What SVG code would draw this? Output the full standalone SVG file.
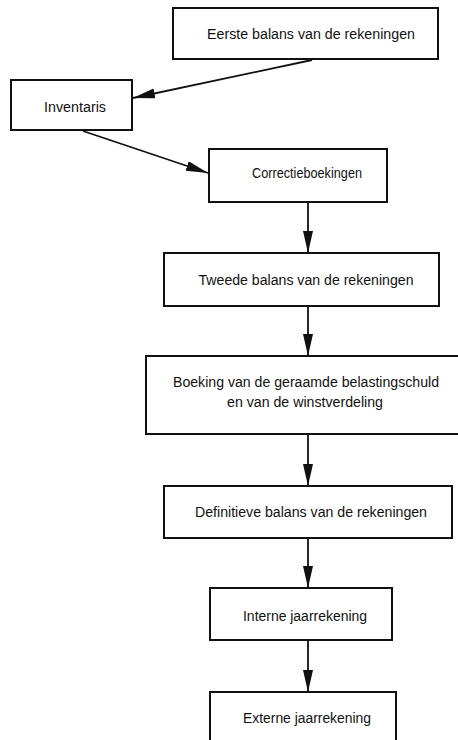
<svg xmlns="http://www.w3.org/2000/svg" width="458" height="740" viewBox="0 0 458 740">
<defs>
<style>
.box{fill:#fff;stroke:#111;stroke-width:2}
.t{font-family:"Liberation Sans",Arial,sans-serif;font-size:14px;fill:#111;text-anchor:middle}
.c{stroke:#111;stroke-width:1.8;fill:none;marker-end:url(#ah)}
</style>
<marker id="ah" markerUnits="userSpaceOnUse" markerWidth="24" markerHeight="12" refX="22" refY="5" orient="auto" viewBox="0 0 24 12">
<path d="M0,0 L22,5 L0,10 z" fill="#111"/>
</marker>
</defs>
<rect width="458" height="740" fill="#fff"/>
<g id="connectors">
<line class="c" x1="312" y1="60" x2="133" y2="98"/>
<line class="c" x1="83" y1="131" x2="208" y2="173"/>
<line class="c" x1="308" y1="202" x2="308" y2="253"/>
<line class="c" x1="308" y1="306" x2="308" y2="356"/>
<line class="c" x1="308" y1="434" x2="308" y2="486"/>
<line class="c" x1="308" y1="538" x2="308" y2="588"/>
<line class="c" x1="308" y1="640" x2="308" y2="692"/>
</g>
<g id="n1"><rect class="box" x="173" y="8" width="265" height="51"/><text class="t" x="311" y="39" textLength="208" lengthAdjust="spacingAndGlyphs">Eerste balans van de rekeningen</text></g>
<g id="n2"><rect class="box" x="11" y="80" width="121" height="50"/><text class="t" x="75" y="112" textLength="62" lengthAdjust="spacingAndGlyphs">Inventaris</text></g>
<g id="n3"><rect class="box" x="209" y="149" width="178" height="53"/><text class="t" x="307" y="178" textLength="110" lengthAdjust="spacingAndGlyphs">Correctieboekingen</text></g>
<g id="n4"><rect class="box" x="164" y="253" width="275" height="53"/><text class="t" x="306" y="285" textLength="215" lengthAdjust="spacingAndGlyphs">Tweede balans van de rekeningen</text></g>
<g id="n5"><rect class="box" x="146" y="356" width="316" height="78"/><text class="t" x="306" y="387" textLength="266" lengthAdjust="spacingAndGlyphs">Boeking van de geraamde belastingschuld</text><text class="t" x="305" y="407" textLength="156" lengthAdjust="spacingAndGlyphs">en van de winstverdeling</text></g>
<g id="n6"><rect class="box" x="164" y="486" width="288" height="52"/><text class="t" x="311" y="517" textLength="232" lengthAdjust="spacingAndGlyphs">Definitieve balans van de rekeningen</text></g>
<g id="n7"><rect class="box" x="210" y="588" width="182" height="52"/><text class="t" x="305" y="621" textLength="124" lengthAdjust="spacingAndGlyphs">Interne jaarrekening</text></g>
<g id="n8"><rect class="box" x="210" y="692" width="186" height="56"/><text class="t" x="307" y="723" textLength="128" lengthAdjust="spacingAndGlyphs">Externe jaarrekening</text></g>
</svg>
